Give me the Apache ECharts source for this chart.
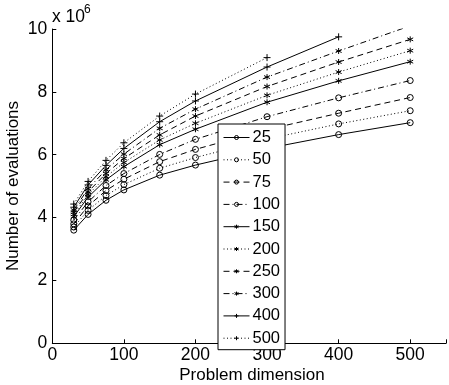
<!DOCTYPE html>
<html>
<head>
<meta charset="utf-8">
<script src="https://cdn.jsdelivr.net/npm/echarts@6/dist/echarts.min.js"></script>
<style>html,body{margin:0;padding:0;background:#fff}#c{width:449px;height:385px}</style>
</head>
<body>
<div id="c"></div>
<script>
// Problem dimensions (x)
var dims = [30, 50, 75, 100, 150, 200, 300, 400, 500];
// Series names (legend)
var names = ['25', '50', '75', '100', '150', '200', '250', '300', '400', '500'];
// Number of evaluations (x 10^6) for each series
var s25  = [3.60, 4.10, 4.55, 4.88, 5.35, 5.67, 6.20, 6.64, 7.02];
var s50  = [3.70, 4.23, 4.70, 5.05, 5.57, 5.91, 6.50, 6.98, 7.40];
var s75  = [3.80, 4.37, 4.86, 5.22, 5.78, 6.17, 6.80, 7.32, 7.82];
var s100 = [3.92, 4.50, 5.02, 5.40, 6.01, 6.49, 7.21, 7.81, 8.36];
var s150 = [4.03, 4.65, 5.20, 5.62, 6.32, 6.81, 7.67, 8.35, 8.96];
var s200 = [4.10, 4.73, 5.30, 5.75, 6.47, 7.00, 7.89, 8.63, 9.31];
var s250 = [4.17, 4.82, 5.40, 5.88, 6.63, 7.23, 8.17, 8.95, 9.67];
var s300 = [4.24, 4.92, 5.52, 6.02, 6.84, 7.45, 8.47, 9.30, 10.10];
var s400 = [4.33, 5.04, 5.66, 6.20, 7.05, 7.71, 8.79, 9.75];
var s500 = [4.43, 5.15, 5.82, 6.38, 7.23, 7.93, 9.09];
var values = [s25, s50, s75, s100, s150, s200, s250, s300, s400, s500];
var xTicks = [0, 100, 200, 300, 400, 500];
var yTicks = [0, 2, 4, 6, 8, 10];

var FONT = "'Liberation Sans', Arial, Helvetica, sans-serif";
var SOLID = 'solid', DOT = [1, 2.5], DASH = [6, 4], DASHDOT = [6, 3, 1, 3];
var styles = [SOLID, DOT, DASH, DASHDOT, SOLID, DOT, DASH, DASHDOT, SOLID, DOT];
var STAR = 'path://M0,-5L0,5M-4.33,-2.5L4.33,2.5M-4.33,2.5L4.33,-2.5';
var PLUS = 'path://M0,-5L0,5M-5,0L5,0';
var markers = ['circle','circle','circle','circle',STAR,STAR,STAR,STAR,PLUS,PLUS];

var series = names.map(function (n, k) {
  var isCircle = markers[k] === 'circle';
  return {
    name: n,
    type: 'line',
    data: values[k].map(function (v, i) { return [dims[i], v]; }),
    symbol: markers[k],
    symbolSize: isCircle ? 6 : (markers[k] === STAR ? 6 : 7),
    showAllSymbol: true,
    clip: true,
    animation: false,
    lineStyle: { color: '#000', width: 1, type: styles[k] },
    itemStyle: {
      color: isCircle ? 'rgba(0,0,0,0)' : '#000',
      borderColor: '#000',
      borderWidth: 1
    },
    emphasis: { disabled: true }
  };
});

var chart = echarts.init(document.getElementById('c'), null, { renderer: 'canvas' });
chart.setOption({
  animation: false,
  backgroundColor: '#fff',
  textStyle: { fontFamily: FONT },
  grid: { left: 52.3, right: -4, top: 29, bottom: 41.7, containLabel: false },
  xAxis: {
    type: 'value', min: 0, max: 550, interval: 100,
    axisLine: { lineStyle: { color: '#000', width: 1 } },
    axisTick: { inside: true, length: 4, lineStyle: { color: '#000' } },
    axisLabel: { color: '#000', fontSize: 17.5, fontFamily: FONT, margin: 3,
      formatter: function (v) { return xTicks.indexOf(v) >= 0 ? String(v) : ''; } },
    splitLine: { show: false }
  },
  yAxis: {
    type: 'value', min: 0, max: 10, interval: 2,
    axisLine: { show: true, lineStyle: { color: '#000', width: 1 } },
    axisTick: { show: true, inside: true, length: 4, lineStyle: { color: '#000' } },
    axisLabel: { color: '#000', fontSize: 17.5, fontFamily: FONT, margin: 5,
      formatter: function (v) { return yTicks.indexOf(v) >= 0 ? String(v) : ''; } },
    splitLine: { show: false }
  },
  legend: {
    orient: 'vertical',
    left: 218, top: 124,
    padding: [5, 5, 3, 5],
    itemWidth: 26, itemHeight: 5, itemGap: 5.3,
    borderColor: '#000', borderWidth: 1, borderRadius: 0,
    backgroundColor: '#fff',
    lineStyle: { width: 1 },
    itemStyle: { borderWidth: 1 },
    textStyle: { color: '#000', fontSize: 16.5, lineHeight: 16, height: 16, fontFamily: FONT, padding: [0, 0, 0, -2] },
    data: names
  },
  graphic: [
    { type: 'text', left: 52, top: 8, style: { text: 'x 10', fill: '#000', font: '17.5px ' + FONT } },
    { type: 'text', left: 84, top: 4, style: { text: '6', fill: '#000', font: '12px ' + FONT } },
    { type: 'text', x: 13, y: 186, rotation: Math.PI / 2,
      style: { text: 'Number of evaluations', fill: '#000', font: '17px ' + FONT, align: 'center', verticalAlign: 'middle' } },
    { type: 'text', x: 252, y: 375,
      style: { text: 'Problem dimension', fill: '#000', font: '17px ' + FONT, align: 'center', verticalAlign: 'middle' } }
  ],
  series: series
});
</script>
</body>
</html>
